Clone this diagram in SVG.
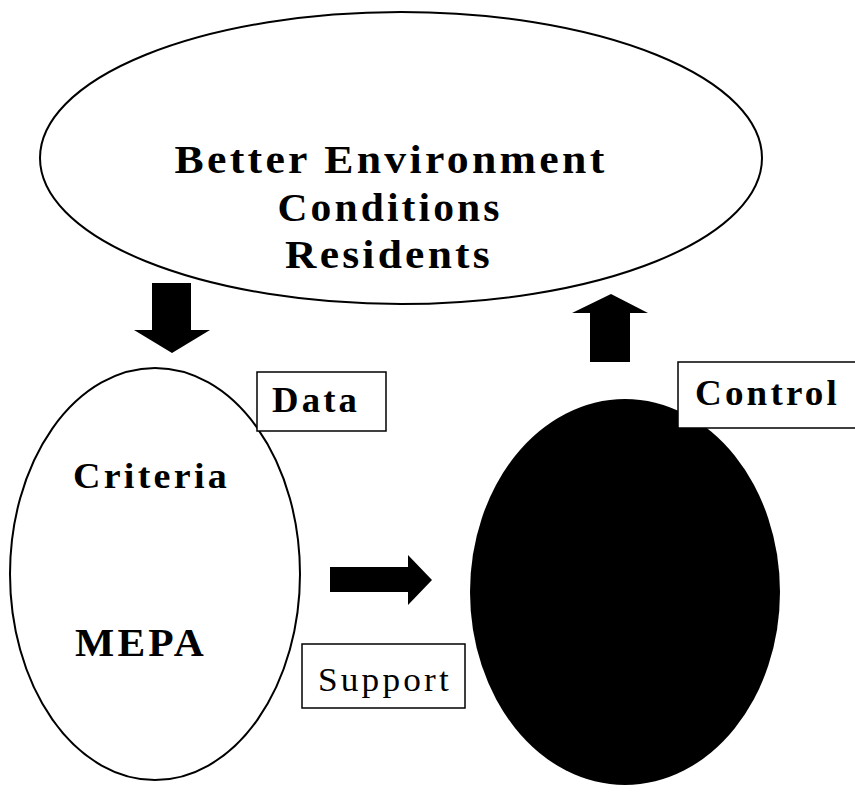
<svg xmlns="http://www.w3.org/2000/svg" width="855" height="795" viewBox="0 0 855 795">
<style>
.outline{fill:#fff;stroke:#000;stroke-width:2}
.box{fill:#fff;stroke:#000;stroke-width:1.5}
.t{font-family:"Liberation Serif","DejaVu Serif",serif;fill:#000;letter-spacing:3px}
.b{font-weight:bold}
.arrow{fill:#000;stroke:none}
</style>
<rect width="855" height="795" fill="#fff"/>
<g id="goal">
<ellipse class="outline" cx="401" cy="158" rx="361" ry="146"/>
<text class="t b" x="391" y="173" font-size="40" text-anchor="middle" textLength="433" lengthAdjust="spacingAndGlyphs">Better Environment</text>
<text class="t b" x="390" y="221" font-size="40" text-anchor="middle" textLength="225" lengthAdjust="spacingAndGlyphs">Conditions</text>
<text class="t b" x="389" y="268" font-size="40" text-anchor="middle" textLength="208" lengthAdjust="spacingAndGlyphs">Residents</text>
</g>
<g id="mepa">
<ellipse class="outline" cx="155" cy="574" rx="145" ry="206"/>
<text class="t b" x="73" y="488" font-size="35" textLength="157" lengthAdjust="spacingAndGlyphs">Criteria</text>
<text class="t b" x="75" y="656" font-size="39" textLength="132" lengthAdjust="spacingAndGlyphs">MEPA</text>
</g>
<g id="actor">
<ellipse cx="625" cy="592" rx="155" ry="193" fill="#000"/>
</g>
<g id="data-label">
<rect class="box" x="257" y="372" width="129" height="59"/>
<text class="t b" x="272" y="412" font-size="35" textLength="88" lengthAdjust="spacingAndGlyphs">Data</text>
</g>
<g id="control-label">
<rect class="box" x="678" y="362" width="190" height="66"/>
<text class="t b" x="695" y="405" font-size="35" textLength="145" lengthAdjust="spacingAndGlyphs">Control</text>
</g>
<g id="support-label">
<rect class="box" x="302" y="644" width="163" height="64"/>
<text class="t" x="318" y="691" font-size="33" textLength="134" lengthAdjust="spacingAndGlyphs">Support</text>
</g>
<g id="connectors">
<polygon class="arrow" points="152,283 191,283 191,330 210,330 172,353 134,330 152,330"/>
<polygon class="arrow" points="590,362 630,362 630,313 648,313 611,294 572,313 590,313"/>
<polygon class="arrow" points="330,567 408,567 408,555 432,580 408,605 408,592 330,592"/>
</g>
</svg>
